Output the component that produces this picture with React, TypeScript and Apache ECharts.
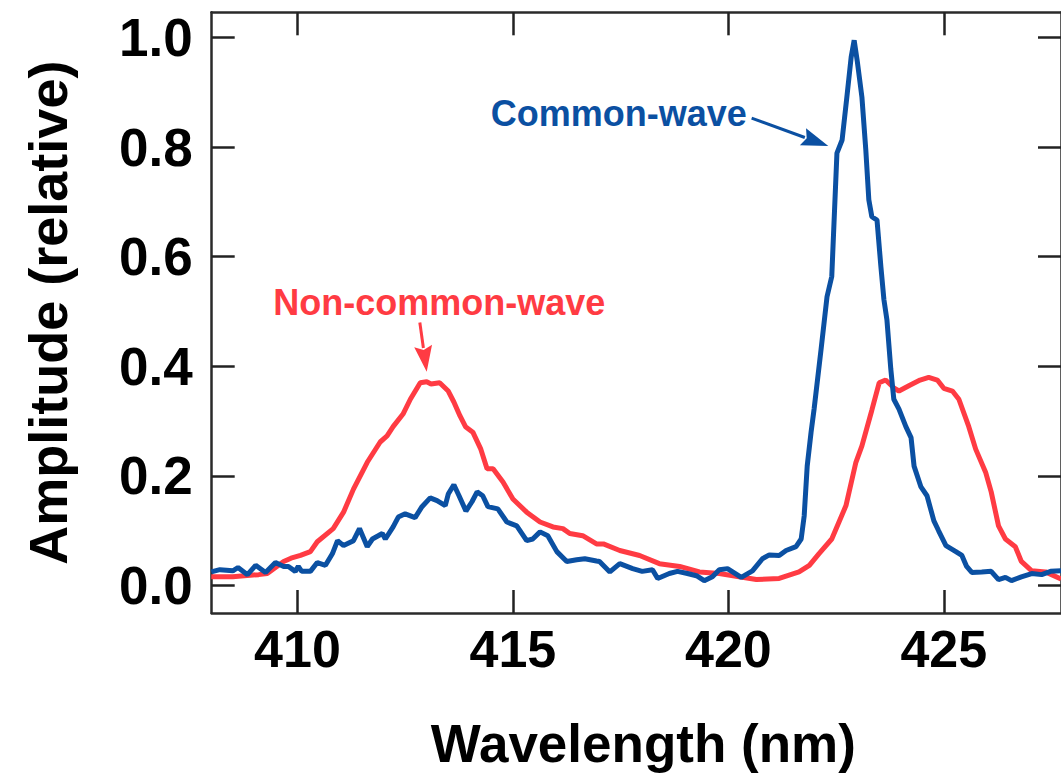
import React, { useEffect, useRef } from "react";
import * as echarts from "echarts";

// Non-common-wave (red) spectrum
const redWavelength = [
  408.0, 408.5, 409.1, 409.3, 409.68, 409.85, 410.07, 410.3, 410.46, 410.83, 411.07, 411.3, 411.62, 411.92,
  412.08, 412.22, 412.45, 412.62, 412.85, 413.0, 413.1, 413.3, 413.5, 413.63, 413.77, 413.9, 414.07, 414.25,
  414.4, 414.54, 414.77, 415.0, 415.32, 415.63, 415.93, 416.16, 416.32, 416.62, 416.94, 417.1, 417.48, 417.94,
  418.4, 418.87, 419.33, 419.79, 420.25, 420.65, 421.18, 421.64, 421.88, 422.1, 422.4, 422.73, 422.96, 423.1,
  423.33, 423.5, 423.65, 423.85, 423.96, 424.2, 424.45, 424.65, 424.85, 425.0, 425.2, 425.35, 425.58, 425.74,
  425.97, 426.1, 426.27, 426.43, 426.66, 426.8, 427.04, 427.36, 427.72,
];
const redAmplitude = [
  0.016, 0.016, 0.02, 0.022, 0.044, 0.05, 0.055, 0.062, 0.08, 0.104, 0.134, 0.176, 0.225, 0.262,
  0.273, 0.29, 0.313, 0.34, 0.37, 0.372, 0.368, 0.37, 0.355, 0.335, 0.31, 0.29, 0.28, 0.25,
  0.213, 0.213, 0.189, 0.158, 0.134, 0.116, 0.107, 0.104, 0.095, 0.091, 0.076, 0.076, 0.064, 0.055,
  0.04, 0.035, 0.025, 0.022, 0.016, 0.011, 0.013, 0.025, 0.037, 0.058, 0.085, 0.146, 0.225, 0.255,
  0.32, 0.37, 0.375, 0.36, 0.355, 0.365, 0.375, 0.38, 0.375, 0.36, 0.355, 0.34, 0.29, 0.249,
  0.207, 0.171, 0.109, 0.085, 0.071, 0.044, 0.027, 0.025, 0.012,
];

// Common-wave (blue) spectrum
const blueWavelength = [
  408.0, 408.2, 408.5, 408.62, 408.84, 409.03, 409.26, 409.49, 409.68, 409.79, 409.95, 410.02, 410.1, 410.3,
  410.46, 410.65, 410.81, 410.93, 411.07, 411.3, 411.44, 411.62, 411.74, 411.97, 412.04, 412.22, 412.34, 412.5,
  412.73, 412.89, 413.08, 413.24, 413.43, 413.5, 413.63, 413.75, 413.91, 414.05, 414.17, 414.3, 414.42, 414.65,
  414.86, 415.09, 415.32, 415.46, 415.63, 415.81, 416.02, 416.25, 416.48, 416.67, 416.94, 417.01, 417.25, 417.48,
  417.78, 418.0, 418.24, 418.36, 418.63, 418.82, 419.05, 419.26, 419.44, 419.63, 419.79, 419.98, 420.3, 420.56,
  420.79, 420.95, 421.18, 421.34, 421.57, 421.69, 421.76, 421.83, 421.92, 421.99, 422.15, 422.29, 422.4, 422.52,
  422.64, 422.75, 422.85, 422.92, 422.99, 423.1, 423.19, 423.26, 423.33, 423.45, 423.54, 423.61, 423.68, 423.77,
  423.84, 423.96, 424.12, 424.24, 424.31, 424.47, 424.61, 424.77, 424.88, 425.05, 425.28, 425.42, 425.53, 425.65,
  425.88, 426.1, 426.27, 426.43, 426.57, 426.8, 427.04, 427.27, 427.48, 427.72,
];
const blueAmplitude = [
  0.025, 0.029, 0.027, 0.033, 0.02, 0.037, 0.024, 0.042, 0.035, 0.035, 0.026, 0.035, 0.026, 0.026,
  0.042, 0.037, 0.058, 0.082, 0.073, 0.082, 0.104, 0.071, 0.085, 0.095, 0.085, 0.107, 0.125, 0.131,
  0.124, 0.144, 0.16, 0.155, 0.146, 0.167, 0.184, 0.164, 0.136, 0.153, 0.171, 0.164, 0.144, 0.14,
  0.116, 0.109, 0.082, 0.085, 0.098, 0.091, 0.062, 0.044, 0.047, 0.049, 0.045, 0.044, 0.025, 0.04,
  0.031, 0.026, 0.029, 0.013, 0.022, 0.026, 0.022, 0.018, 0.009, 0.016, 0.029, 0.031, 0.015, 0.027,
  0.049, 0.056, 0.055, 0.064, 0.071, 0.085, 0.127, 0.218, 0.28, 0.322, 0.43, 0.527, 0.564, 0.789,
  0.813, 0.891, 0.964, 0.995, 0.958, 0.891, 0.795, 0.704, 0.673, 0.667, 0.582, 0.522, 0.485, 0.395,
  0.34, 0.322, 0.29, 0.27, 0.218, 0.18, 0.164, 0.118, 0.1, 0.073, 0.062, 0.055, 0.035, 0.024,
  0.025, 0.026, 0.011, 0.015, 0.009, 0.016, 0.022, 0.02, 0.026, 0.027,
];

const xTicks = [410, 415, 420, 425];
const yTicks = [0, 0.2, 0.4, 0.6, 0.8, 1.0];

// Annotations: label text anchor (nm, amp), arrow start, arrow tip
const blueLabel = { text: "Common-wave", at: [420.43, 0.862], from: [420.54, 0.853], to: [422.32, 0.802] };
const redLabel = { text: "Non-common-wave", at: [413.29, 0.517], from: [412.84, 0.48], to: [413.0, 0.39] };

const BLUE = "#0b50a2";
const RED = "#ff3b43";
const FONT = "'Liberation Sans', Arial, Helvetica, sans-serif";

export default function App() {
  const ref = useRef<HTMLDivElement>(null);
  useEffect(() => {
    const chart = echarts.init(ref.current!, null, { renderer: "svg" });
    const xMin = 408.01;
    const xMax = 427.72;
    const yMin = -0.05;
    const yMax = 1.046;
    const axisLine = { show: true, onZero: false, lineStyle: { color: "#2a2a2a", width: 2.5 } };
    const tickStyle = { color: "#222", width: 2.5 };
    const labelStyle = { fontSize: 52, fontWeight: "bold", color: "#000", fontFamily: FONT };
    const xCommon = {
      type: "value", min: xMin, max: xMax, axisLine,
      splitLine: { show: false },
      axisTick: { show: true, inside: true, length: 23, lineStyle: tickStyle, customValues: xTicks },
    };
    const yCommon = {
      type: "value", min: yMin, max: yMax, axisLine,
      splitLine: { show: false },
      axisTick: { show: true, inside: true, length: 23, lineStyle: tickStyle, customValues: yTicks },
    };
    chart.setOption({
      animation: false,
      grid: { left: 211.7, top: 12.3, width: 851.3, height: 600.7, containLabel: false },
      xAxis: [
        {
          ...xCommon, position: "bottom",
          axisLabel: { ...labelStyle, margin: 10, customValues: xTicks, formatter: (v: number) => String(v) },
          name: "Wavelength (nm)", nameLocation: "middle", nameGap: 104,
          nameTextStyle: { fontSize: 53, fontWeight: "bold", color: "#000", fontFamily: FONT, padding: [0, 0, 0, 14] },
        },
        { ...xCommon, position: "top", axisLabel: { show: false } },
      ],
      yAxis: [
        {
          ...yCommon, position: "left",
          axisLabel: { ...labelStyle, fontSize: 53, margin: 19, customValues: yTicks, formatter: (v: number) => v.toFixed(1) },
          name: "Amplitude (relative)", nameLocation: "middle", nameGap: 137,
          nameTextStyle: { fontSize: 54, fontWeight: "bold", color: "#000", fontFamily: FONT },
        },
        { ...yCommon, position: "right", axisLabel: { show: false } },
      ],
      series: [
        {
          type: "line", name: "Non-common-wave", xAxisIndex: 0, yAxisIndex: 0,
          data: redWavelength.map((x, i) => [x, redAmplitude[i]]),
          showSymbol: false, lineStyle: { color: RED, width: 5 }, itemStyle: { color: RED },
        },
        {
          type: "line", name: "Common-wave", xAxisIndex: 0, yAxisIndex: 0,
          data: blueWavelength.map((x, i) => [x, blueAmplitude[i]]),
          showSymbol: false, lineStyle: { color: BLUE, width: 5 }, itemStyle: { color: BLUE },
        },
      ],
    });

    const px = (p: number[]) => chart.convertToPixel({ xAxisIndex: 0, yAxisIndex: 0 }, p) as number[];
    const arrow = (from: number[], to: number[], color: string, headLen: number, headHalf: number) => {
      const a = px(from);
      const b = px(to);
      const dx = b[0] - a[0];
      const dy = b[1] - a[1];
      const len = Math.hypot(dx, dy);
      const ux = dx / len;
      const uy = dy / len;
      const bx = b[0] - ux * headLen;
      const by = b[1] - uy * headLen;
      return [
        { type: "line", shape: { x1: a[0], y1: a[1], x2: bx + ux * 2, y2: by + uy * 2 }, style: { stroke: color, lineWidth: 3 } },
        {
          type: "polygon",
          shape: { points: [[b[0], b[1]], [bx - uy * headHalf, by + ux * headHalf], [bx + ux * 4, by + uy * 4], [bx + uy * headHalf, by - ux * headHalf]] },
          style: { fill: color },
        },
      ];
    };
    const bAt = px(blueLabel.at);
    const rAt = px(redLabel.at);
    chart.setOption({
      graphic: [
        {
          type: "text", x: bAt[0], y: bAt[1],
          style: { text: blueLabel.text, fill: BLUE, font: `bold 36px ${FONT}`, align: "right", verticalAlign: "middle" },
        },
        {
          type: "text", x: rAt[0], y: rAt[1],
          style: { text: redLabel.text, fill: RED, font: `bold 36px ${FONT}`, align: "center", verticalAlign: "middle" },
        },
        ...arrow(blueLabel.from, blueLabel.to, BLUE, 27, 9),
        ...arrow(redLabel.from, redLabel.to, RED, 26, 9),
      ],
    });
    return () => chart.dispose();
  }, []);
  return <div ref={ref} style={{ position: "absolute", left: 0, top: 0, width: 1061, height: 778 }} />;
}
